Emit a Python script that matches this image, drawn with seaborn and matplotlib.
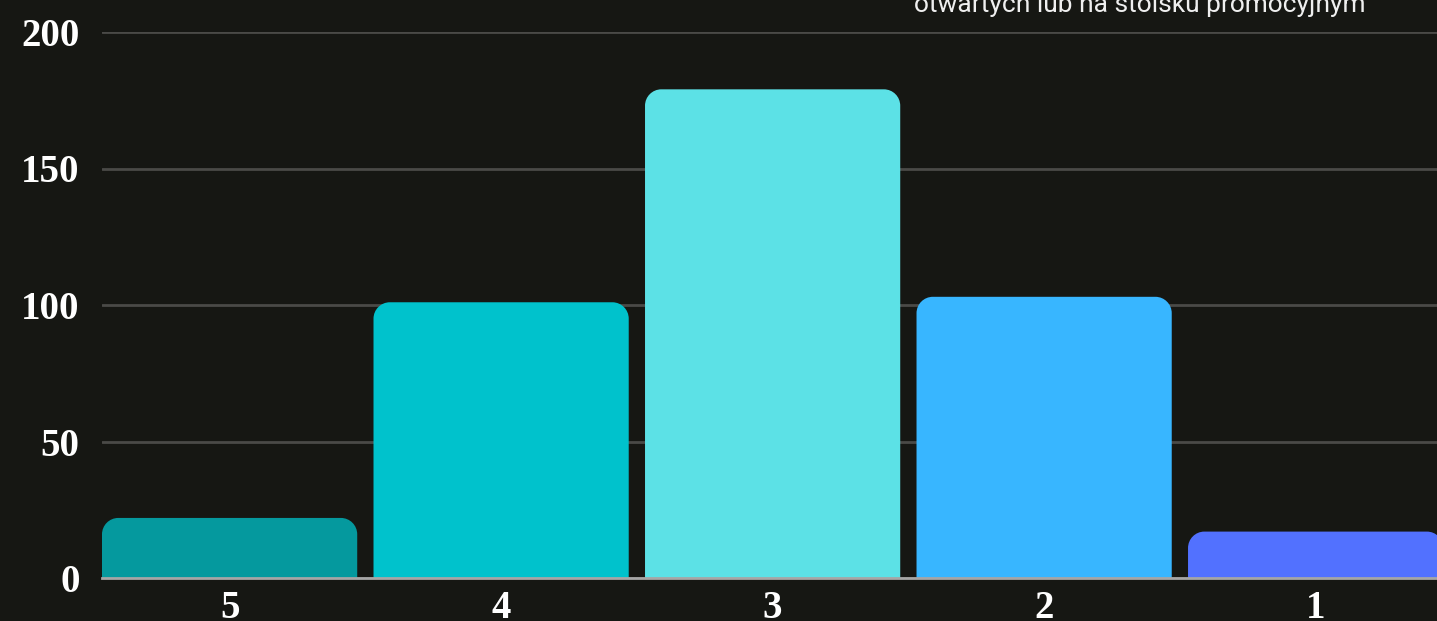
import numpy as np
import pandas as pd
import seaborn as sns
import matplotlib.pyplot as plt
from matplotlib.path import Path
from matplotlib.patches import PathPatch

# dane
oceny = ["5", "4", "3", "2", "1"]
liczba = [22, 101, 179, 103, 17]
kolory = ["#05999e", "#00c2cc", "#5ce1e6", "#38b6ff", "#5271ff"]
podpis = "otwartych lub na stoisku promocyjnym"

BG = "#161713"

sns.set_theme(style="dark")
plt.rcParams["font.family"] = ["Liberation Serif", "DejaVu Serif"]

fig = plt.figure(figsize=(14.37, 6.21), dpi=100, facecolor=BG)
ax = fig.add_axes([102 / 1437, 43 / 621, (1437 - 102) / 1437, (578 - 32) / 621])
ax.set_facecolor(BG)

df = pd.DataFrame({"ocena": oceny, "liczba": liczba})
sns.barplot(data=df, x="ocena", y="liczba", hue="ocena", palette=kolory,
            saturation=1, width=0.94, legend=False, ax=ax, zorder=3)


def rounded_top(x, w, h, rx, ry):
    k = 0.5523
    verts = [(x, 0), (x, h - ry),
             (x, h - ry + k * ry), (x + rx - k * rx, h), (x + rx, h),
             (x + w - rx, h),
             (x + w - rx + k * rx, h), (x + w, h - ry + k * ry), (x + w, h - ry),
             (x + w, 0), (x, 0)]
    codes = [Path.MOVETO, Path.LINETO,
             Path.CURVE4, Path.CURVE4, Path.CURVE4,
             Path.LINETO,
             Path.CURVE4, Path.CURVE4, Path.CURVE4,
             Path.LINETO, Path.CLOSEPOLY]
    return Path(verts, codes)


# zaokraglone gorne rogi slupkow
for p in list(ax.patches):
    x, w, h = p.get_x(), p.get_width(), p.get_height()
    pp = PathPatch(rounded_top(x, w, h, 0.06, 6.0), facecolor=p.get_facecolor(),
                   edgecolor="none", zorder=3)
    p.set_visible(False)
    ax.add_patch(pp)

ax.set_xlim(-0.47, 4.447)
ax.set_ylim(0, 200)
ax.set_yticks([0, 50, 100, 150, 200])
ax.set_xlabel("")
ax.set_ylabel("")

ax.grid(axis="y", color="#4a4a47", linewidth=2, zorder=0)
ax.grid(axis="x", visible=False)
for s in ["top", "right", "left"]:
    ax.spines[s].set_visible(False)
ax.spines["bottom"].set_color("#a6a6a6")
ax.spines["bottom"].set_linewidth(2)
ax.spines["bottom"].set_zorder(4)

ax.tick_params(axis="y", length=0, pad=16, labelsize=28, labelcolor="white")
ax.tick_params(axis="x", length=0, pad=9, labelsize=28, labelcolor="white")
for lab in ax.get_xticklabels() + ax.get_yticklabels():
    lab.set_fontweight("bold")

fig.text(1365 / 1437, (621 - 12) / 621, podpis, ha="right", va="baseline",
         color="#efefef", fontsize=19, family=["Roboto", "DejaVu Sans"])

fig.savefig("out.png", dpi=100, facecolor=BG)
